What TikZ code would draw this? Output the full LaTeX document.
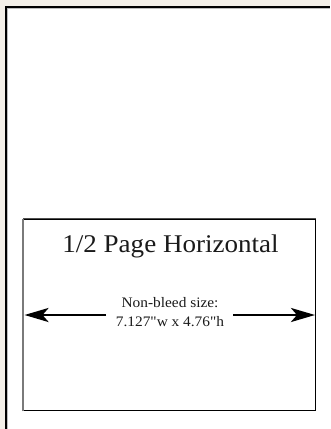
\documentclass[tikz,border=0pt]{standalone}
\usepackage{fontspec}
\setmainfont{Liberation Serif}[FakeStretch=1.06, Ligatures=TeXOff]
\usetikzlibrary{arrows.meta}
\definecolor{pagebg}{HTML}{F3EFE8}
\definecolor{edgegray}{HTML}{BDBDBD}
\definecolor{boxgray}{HTML}{7A7A7A}
\definecolor{boxtop}{HTML}{505050}
\definecolor{inktext}{HTML}{1A1A1A}
\tikzset{
  dimarrow/.style={line width=2.8pt, -{Stealth[length=24pt,width=14pt,inset=6pt]}},
  titletext/.style={font=\fontsize{25.5}{29}\selectfont, text=inktext, inner sep=0pt},
  sizetext/.style={font=\fontsize{14.5}{19}\selectfont, text=inktext, align=center, inner sep=0pt}
}
\begin{document}
\begin{tikzpicture}[x=1pt,y=-1pt]
\useasboundingbox (0,0) rectangle (330,429);
\fill[pagebg] (0,0) rectangle (330,429);
\fill[white] (7,8) rectangle (330,429);
\draw[line width=2pt] (6,429) -- (6,7) -- (330,7);
\draw[edgegray, line width=1pt] (7.5,429) -- (7.5,8.5) -- (330,8.5);
% half page box
\node[draw, line width=1.2pt, minimum width=292pt, minimum height=191pt, inner sep=0pt] (box) at (169.6,314.6) {};
\draw[boxgray, line width=2pt] (box.south west) ++(0.4,0.6) -- ++(0,-192);
\draw[boxtop, line width=1.4pt] (box.north west) -- (box.north east);
\node[titletext, anchor=base] (title) at (170.5,252) {1/2 Page Horizontal};
\node[sizetext] (size) at (170,312.5) {Non-bleed size:\\7.127"w x 4.76"h};
\coordinate (la) at (106,315);
\coordinate (lt) at (24.5,315);
\coordinate (ra) at (233,315);
\coordinate (rt) at (315,315);
\draw[dimarrow] (la) -- (lt);
\draw[dimarrow] (ra) -- (rt);
\end{tikzpicture}
\end{document}
